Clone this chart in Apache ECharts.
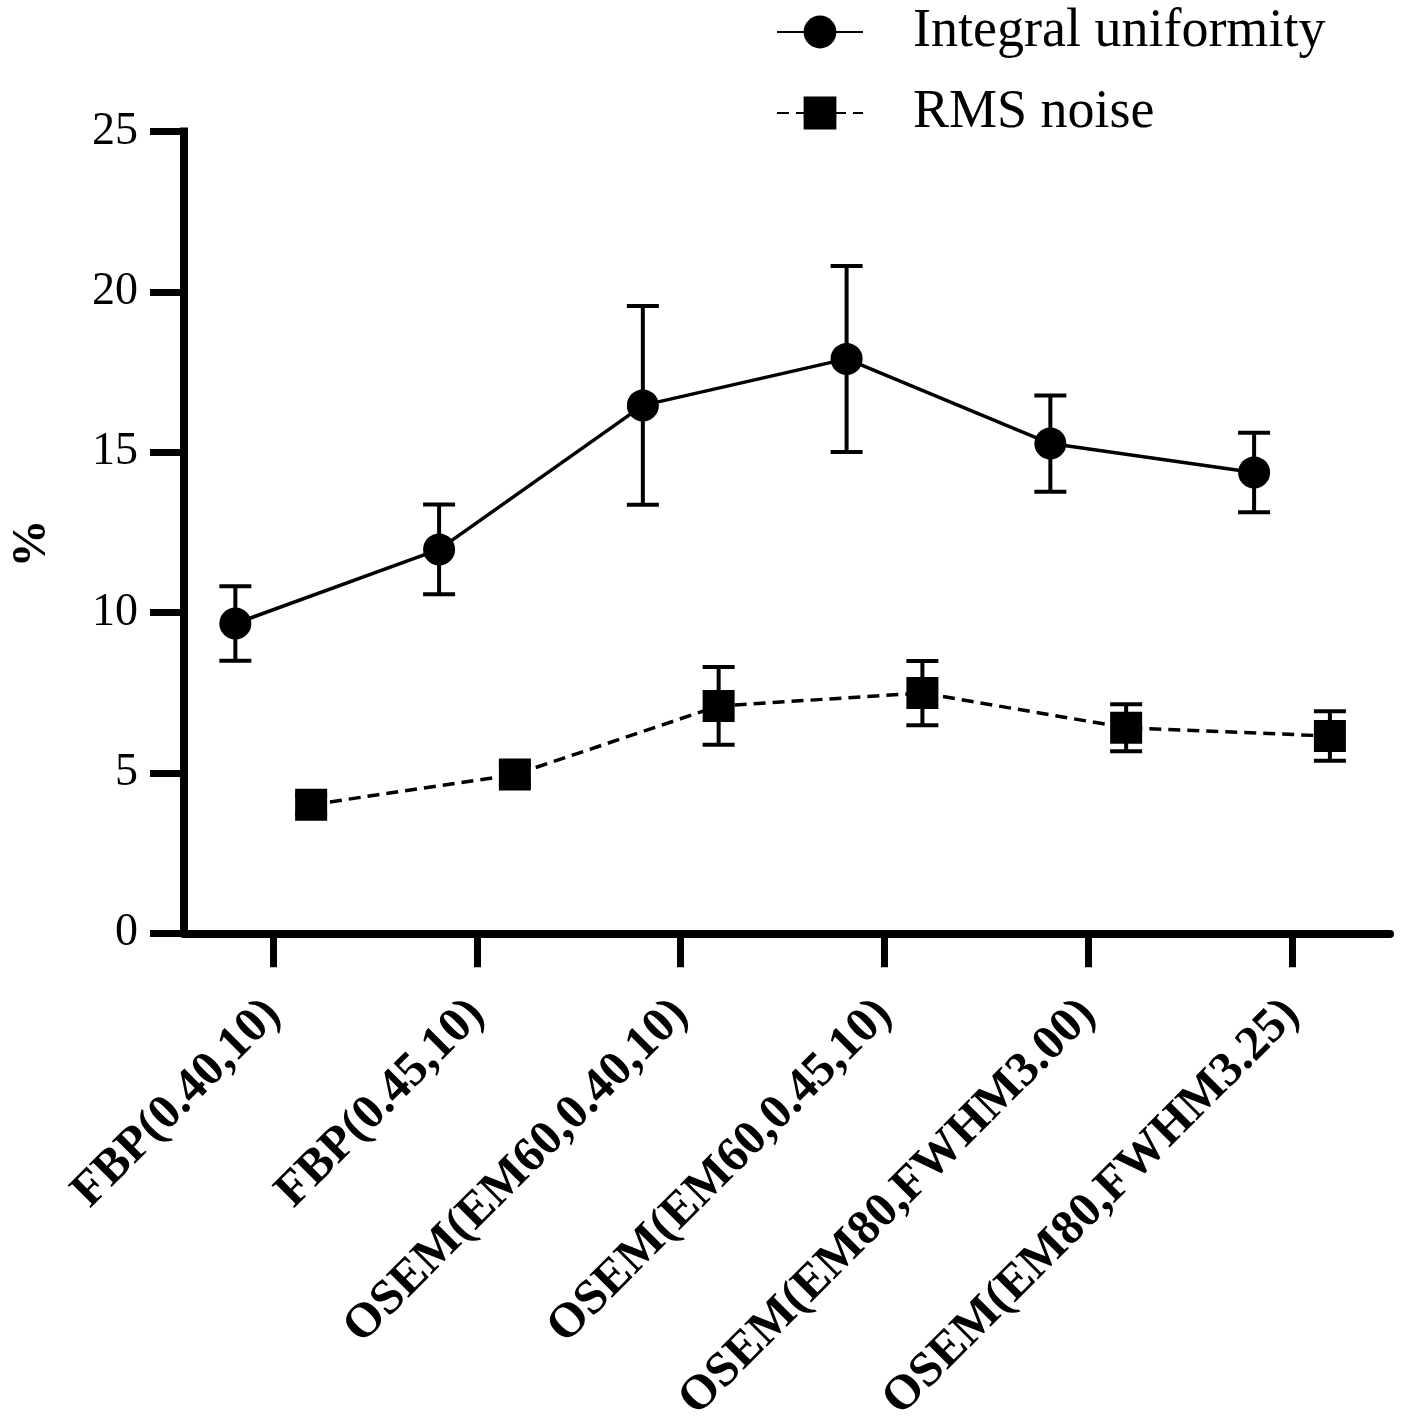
<!DOCTYPE html>
<html><head><meta charset="utf-8">
<script src="https://cdn.jsdelivr.net/npm/echarts@6/dist/echarts.min.js"></script>
<style>html,body{margin:0;padding:0;background:#fff}#c{width:1401px;height:1416px}</style>
</head><body><div id="c"></div>
<script>
const categories = ['FBP(0.40,10)', 'FBP(0.45,10)', 'OSEM(EM60,0.40,10)', 'OSEM(EM60,0.45,10)', 'OSEM(EM80,FWHM3.00)', 'OSEM(EM80,FWHM3.25)'];
const seriesNames = ['Integral uniformity', 'RMS noise'];
const uniformityMean = [9.66, 11.97, 16.46, 17.91, 15.27, 14.37];
const uniformitySD = [1.16, 1.40, 3.10, 2.90, 1.50, 1.24];
const noiseMean = [4.01, 4.95, 7.09, 7.49, 6.41, 6.15];
const noiseSD = [0.30, 0.30, 1.21, 1.00, 0.73, 0.77];
const yTicks = [0, 5, 10, 15, 20, 25];

const DODGE = 0.186;
const FONT = '"Liberation Serif", "Times New Roman", serif';
const catIdx = categories.map((c, i) => i);

function pts(means, off) { return means.map((v, i) => [i + off, v]); }
function errs(means, sds, off) { return means.map((v, i) => [i + off, v - sds[i], v + sds[i]]); }

function errorRender(params, api) {
  const x = api.value(0), lo = api.value(1), hi = api.value(2);
  const pLo = api.coord([x, lo]), pHi = api.coord([x, hi]);
  const half = 16;
  const style = { stroke: '#000', lineWidth: 4, fill: null };
  return { type: 'group', children: [
    { type: 'line', shape: { x1: pLo[0], y1: pLo[1], x2: pHi[0], y2: pHi[1] }, style },
    { type: 'line', shape: { x1: pLo[0] - half, y1: pLo[1], x2: pLo[0] + half, y2: pLo[1] }, style },
    { type: 'line', shape: { x1: pHi[0] - half, y1: pHi[1], x2: pHi[0] + half, y2: pHi[1] }, style }
  ]};
}

const chart = echarts.init(document.getElementById('c'), null, { renderer: 'canvas' });
chart.setOption({
  animation: false,
  backgroundColor: '#fff',
  grid: { left: 184, right: 11, top: 131.5, bottom: 482.7, containLabel: false, outerBoundsMode: 'none' },
  legend: {
    orient: 'vertical', left: 771, top: -3, itemWidth: 86, itemHeight: 41, itemGap: 21,
    selectedMode: false, data: seriesNames,
    textStyle: { fontFamily: FONT, fontSize: 54, color: '#000', lineHeight: 54, padding: [6, 0, 0, 45] }
  },
  xAxis: {
    type: 'value', min: -0.438, max: 5.481,
    splitLine: { show: false },
    axisLine: { show: true, onZero: false, lineStyle: { color: '#000', width: 8 } },
    axisTick: { show: true, customValues: catIdx, length: 34, lineStyle: { color: '#000', width: 7 } },
    axisLabel: {
      customValues: catIdx, formatter: v => categories[Math.round(v)] || '',
      rotate: 45, fontFamily: FONT, fontWeight: 'bold', fontSize: 49, color: '#000',
      margin: 74
    }
  },
  yAxis: {
    type: 'value', min: yTicks[0], max: yTicks[yTicks.length - 1], interval: 5,
    splitLine: { show: false },
    axisLine: { show: true, onZero: false, lineStyle: { color: '#000', width: 8, cap: 'square' } },
    axisTick: { show: true, length: 34, lineStyle: { color: '#000', width: 7 } },
    axisLabel: { fontFamily: FONT, fontSize: 46, color: '#000', margin: 46 },
    name: '%', nameLocation: 'middle', nameGap: 127,
    nameTextStyle: { fontFamily: FONT, fontSize: 48, fontWeight: 'bold', color: '#000', padding: [0, 22, 0, 0] }
  },
  series: [
    { type: 'custom', name: 'errU', renderItem: errorRender, data: errs(uniformityMean, uniformitySD, -DODGE), encode: { x: 0, y: [1, 2] }, z: 1, silent: true },
    { type: 'custom', name: 'errN', renderItem: errorRender, data: errs(noiseMean, noiseSD, DODGE), encode: { x: 0, y: [1, 2] }, z: 1, silent: true },
    { type: 'line', name: seriesNames[0], data: pts(uniformityMean, -DODGE), symbol: 'circle', symbolSize: 32,
      itemStyle: { color: '#000' }, lineStyle: { color: '#000', width: 3.5 }, z: 3 },
    { type: 'line', name: seriesNames[1], data: pts(noiseMean, DODGE), symbol: 'rect', symbolSize: 32,
      itemStyle: { color: '#000' }, lineStyle: { color: '#000', width: 3.5, type: [12, 7] }, z: 3 }
  ]
});
</script></body></html>
